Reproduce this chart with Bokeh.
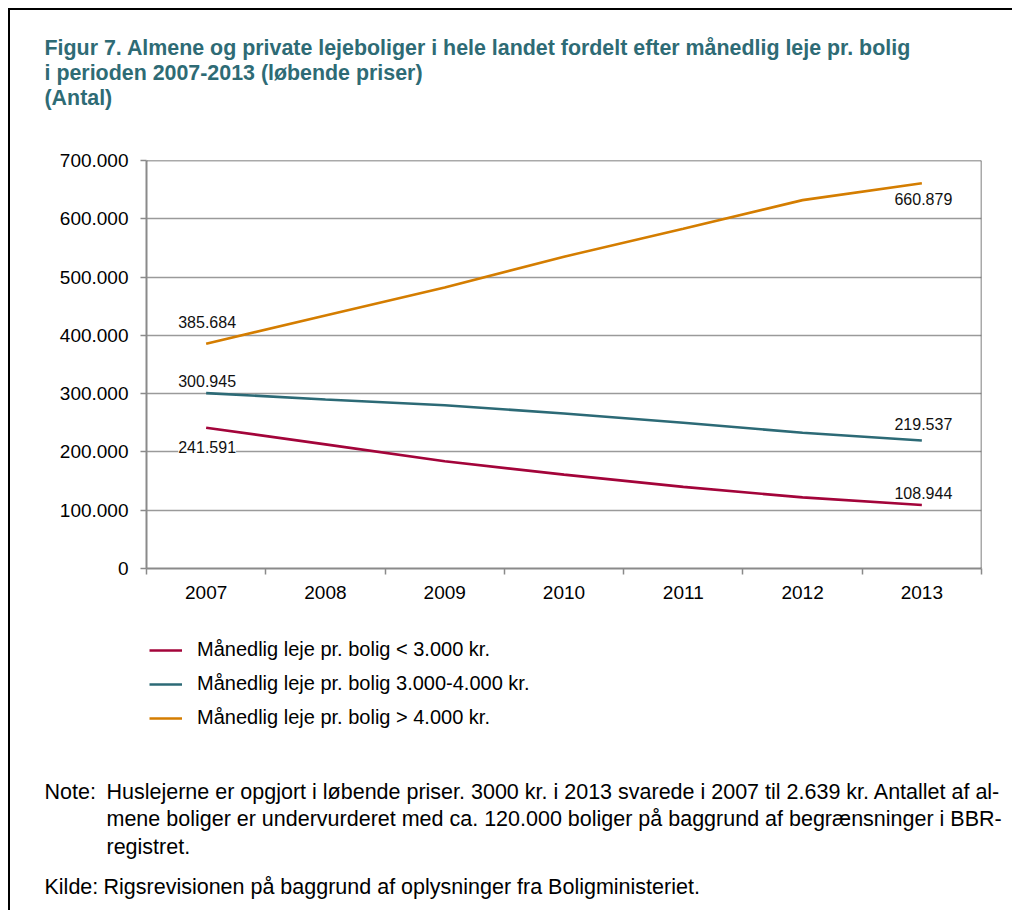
from bokeh.plotting import figure
from bokeh.layouts import column
from bokeh.models import (Range1d, FixedTicker, CustomJSTickFormatter, Legend, LegendItem,
                          LabelSet, ColumnDataSource, Span)
from bokeh.core.properties import value
from bokeh.embed import file_html
from bokeh.resources import INLINE

# ---------------- data ----------------
years = ["2007", "2008", "2009", "2010", "2011", "2012", "2013"]
under_3000 = [241591, 213000, 184000, 161000, 140000, 122000, 108944]
between_3000_4000 = [300945, 290000, 280000, 266000, 250000, 233000, 219537]
over_4000 = [385684, 434000, 482000, 535000, 583000, 632000, 660879]
series_names = [
    "Månedlig leje pr. bolig < 3.000 kr.",
    "Månedlig leje pr. bolig 3.000-4.000 kr.",
    "Månedlig leje pr. bolig > 4.000 kr.",
]
y_ticks = [0, 100000, 200000, 300000, 400000, 500000, 600000, 700000]

title_lines = [
    "Figur 7. Almene og private lejeboliger i hele landet fordelt efter månedlig leje pr. bolig",
    "i perioden 2007-2013 (løbende priser)",
    "(Antal)",
]
note_head = "Note:"
note_lines = [
    "Huslejerne er opgjort i løbende priser. 3000 kr. i 2013 svarede i 2007 til 2.639 kr. Antallet af al-",
    "mene boliger er undervurderet med ca. 120.000 boliger på baggrund af begrænsninger i BBR-",
    "registret.",
]
source_head = "Kilde:"
source_text = "Rigsrevisionen på baggrund af oplysninger fra Boligministeriet."

# ---------------- styles ----------------
colors = ["#A3043A", "#2C6A76", "#D47D00"]
title_color = "#2E6B75"
FONT = "Liberation Sans"
start_offsets = [-19.5, 12.5, 21.5]   # label offsets (px) for first points
end_offsets = [12, 16.5, -15.5]       # label offsets (px) for last points

W = 1002          # content width (page x 10..1012)
ORG = 10          # page offset of content (8px margin + 2px border)


def fmt(v):
    return f"{v:,}".replace(",", ".")


def text_panel(top, bottom):
    """A bare figure whose ranges are page pixels, for free text."""
    f = figure(width=W, height=bottom - top, output_backend="svg", toolbar_location=None,
               x_range=Range1d(ORG, ORG + W), y_range=Range1d(bottom, top),
               x_axis_type=None, y_axis_type=None, min_border=0, frame_align=False)
    f.outline_line_color = None
    f.xgrid.visible = False
    f.ygrid.visible = False
    f.background_fill_color = "white"
    f.border_fill_color = "white"
    return f


# ---------------- title panel ----------------
pt = text_panel(10, 140)
pt.text(x=[44, 44, 44], y=[47.5, 72.5, 97.5], text=title_lines,
        text_font=value(FONT), text_font_size="21.4px", text_font_style="bold",
        text_color=title_color, text_baseline="alphabetic", text_align="left")

# ---------------- chart ----------------
xs = [i + 0.5 for i in range(len(years))]
CH_TOP, CH_BOT = 140, 614
frame_top, frame_bottom, frame_left, frame_right = 160, 568, 146, 981
p = figure(width=W, height=CH_BOT - CH_TOP, output_backend="svg", toolbar_location=None,
           x_range=Range1d(0, len(years)), y_range=Range1d(0, 700000),
           min_border_left=frame_left - ORG, min_border_top=frame_top - CH_TOP,
           min_border_right=ORG + W - frame_right, min_border_bottom=CH_BOT - frame_bottom,
           frame_align=False)
p.background_fill_color = "white"
p.border_fill_color = "white"
p.outline_line_color = None
p.xgrid.grid_line_color = None
p.ygrid.grid_line_color = "#9A9A9A"
p.ygrid.grid_line_width = 1.5
p.ygrid.ticker = FixedTicker(ticks=y_ticks)

p.yaxis.ticker = FixedTicker(ticks=y_ticks)
p.yaxis.formatter = CustomJSTickFormatter(
    code="return Math.round(tick).toString().replace(/\\B(?=(\\d{3})+(?!\\d))/g, '.');")
p.yaxis.axis_line_color = "#8A8A8A"
p.yaxis.axis_line_width = 2
p.yaxis.major_tick_line_color = "#8A8A8A"
p.yaxis.major_tick_line_width = 1.5
p.yaxis.major_tick_out = 6
p.yaxis.major_tick_in = 0
p.yaxis.minor_tick_line_color = None
p.yaxis.major_label_standoff = 12
p.yaxis.major_label_text_font = FONT
p.yaxis.major_label_text_font_size = "19px"
p.yaxis.major_label_text_color = "black"

p.xaxis.ticker = FixedTicker(ticks=xs, minor_ticks=list(range(len(years) + 1)))
p.xaxis.formatter = CustomJSTickFormatter(args=dict(years=years),
                                          code="return years[Math.floor(tick)];")
p.xaxis.axis_line_color = "#8A8A8A"
p.xaxis.axis_line_width = 2
p.xaxis.major_tick_line_color = None
p.xaxis.major_tick_out = 0
p.xaxis.major_tick_in = 0
p.xaxis.minor_tick_line_color = "#8A8A8A"
p.xaxis.minor_tick_line_width = 1.5
p.xaxis.minor_tick_out = 6
p.xaxis.minor_tick_in = 0
p.xaxis.major_label_standoff = 11
p.xaxis.major_label_text_font = FONT
p.xaxis.major_label_text_font_size = "19px"
p.xaxis.major_label_text_color = "black"

p.add_layout(Span(location=700000, dimension="width", line_color="#555555", line_width=1.5))
p.add_layout(Span(location=len(years), dimension="height", line_color="#555555", line_width=1.5))

for vals, c in zip([under_3000, between_3000_4000, over_4000], colors):
    p.line(xs, vals, line_color=c, line_width=2.6)

first = [under_3000[0], between_3000_4000[0], over_4000[0]]
last = [under_3000[-1], between_3000_4000[-1], over_4000[-1]]
src_start = ColumnDataSource(dict(x=[xs[0]] * 3, y=first, t=[fmt(v) for v in first], off=start_offsets))
src_end = ColumnDataSource(dict(x=[xs[-1]] * 3, y=last, t=[fmt(v) for v in last], off=end_offsets))
p.add_layout(LabelSet(x="x", y="y", text="t", source=src_start, y_offset="off", x_offset=1,
                      text_align="center", text_baseline="middle", text_font_size=value("16px"),
                      text_font=value(FONT), text_color="#111111",
                      background_fill_color="white", background_fill_alpha=1.0))
p.add_layout(LabelSet(x="x", y="y", text="t", source=src_end, y_offset="off", x_offset=1.5,
                      text_align="center", text_baseline="middle", text_font_size=value("16px"),
                      text_font=value(FONT), text_color="#111111"))

# ---------------- legend + notes panel ----------------
PB_TOP, PB_BOT = CH_BOT, 910
pb = text_panel(PB_TOP, PB_BOT)
# legend keys: same line styles as the series (no visible marks in this panel)
legend_keys = [pb.line(x=[float("nan")], y=[float("nan")], line_color=c, line_width=2.6)
               for c in colors]
legend = Legend(items=[LegendItem(label=n, renderers=[r]) for n, r in zip(series_names, legend_keys)],
                location=(149 - ORG, PB_BOT - 729), orientation="vertical",
                label_text_font=FONT, label_text_font_size="20px", label_text_color="black",
                glyph_width=33, glyph_height=22, label_height=22, label_standoff=15,
                spacing=11, padding=0, margin=0,
                border_line_color=None, background_fill_alpha=0)
pb.add_layout(legend, "center")

pb.text(x=[44], y=[791], text=[note_head], text_font=value(FONT), text_font_size="21.5px",
        text_color="black", text_baseline="alphabetic")
pb.text(x=[106, 106, 106], y=[791, 818.5, 846], text=note_lines, text_font=value(FONT),
        text_font_size="21.5px", text_color="black", text_baseline="alphabetic")
pb.text(x=[44, 103], y=[886, 886], text=[source_head, source_text], text_font=value(FONT),
        text_font_size="21.5px", text_color="black", text_baseline="alphabetic")

layout = column(pt, p, pb, spacing=0,
                styles={"margin-left": "8px", "margin-top": "8px",
                        "border-left": "2px solid black", "border-top": "2px solid black"})

open("out.html", "w").write(file_html(layout, INLINE))
